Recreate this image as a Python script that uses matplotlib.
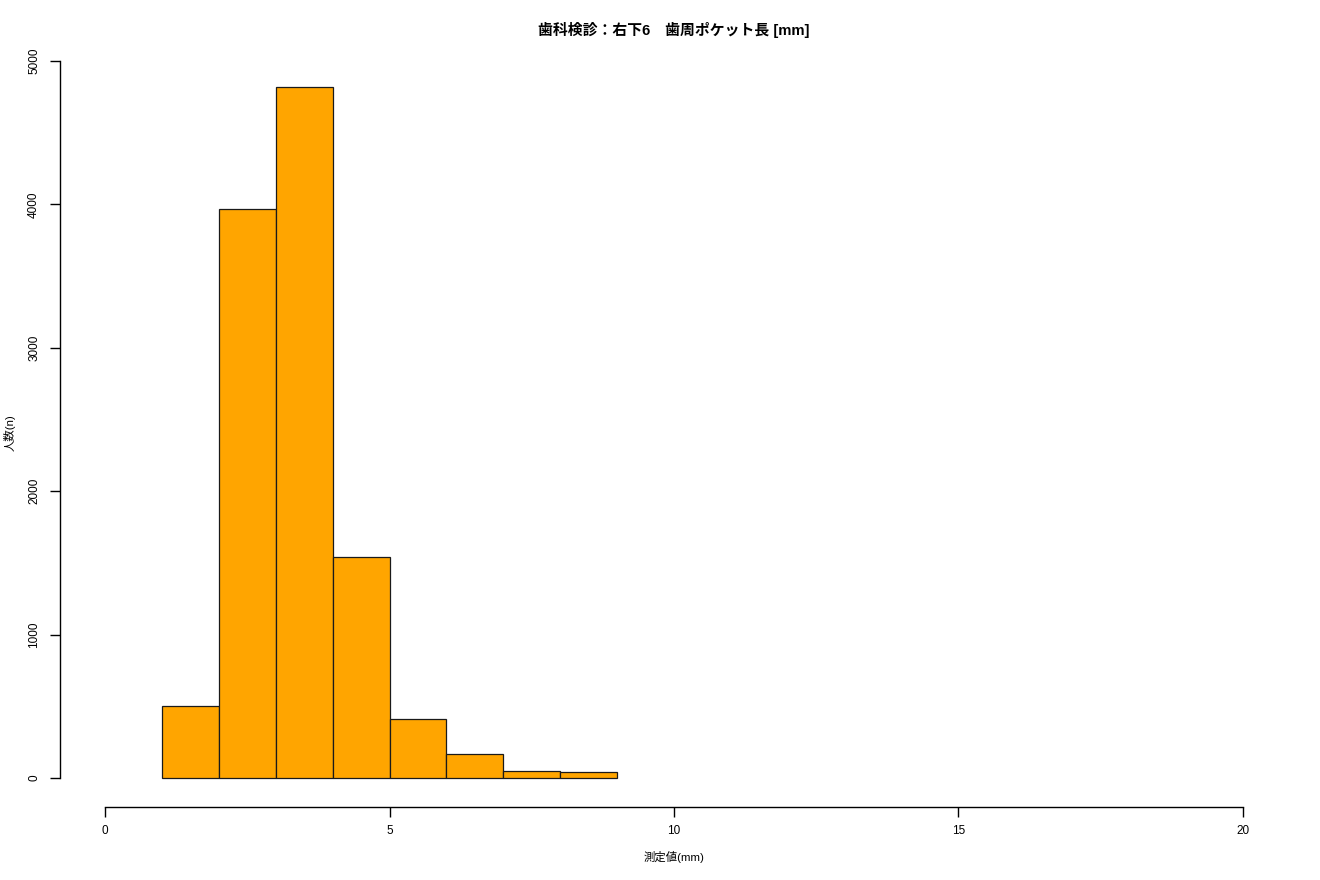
import matplotlib
matplotlib.use("Agg")
import matplotlib.pyplot as plt
import numpy as np

plt.rcParams['font.family'] = ['Liberation Sans', 'Noto Sans CJK JP', 'DejaVu Sans']

# Data: histogram bins (mm) and counts
bin_edges = [1, 2, 3, 4, 5, 6, 7, 8, 9]
counts = [500, 3968, 4819, 1542, 410, 166, 46, 40]
x_ticks = [0, 5, 10, 15, 20]
y_ticks = [0, 1000, 2000, 3000, 4000, 5000]
title = "歯科検診：右下6　歯周ポケット長 [mm]"
xlabel = "測定値(mm)"
ylabel = "人数(n)"

W, H = 1320, 880
fig = plt.figure(figsize=(W / 100, H / 100), dpi=100)
ax = fig.add_axes([0.0451, 0.0833, 0.9310, 0.8800])

lefts = np.array(bin_edges[:-1])
widths = np.diff(bin_edges)
ax.bar(lefts, counts, width=widths, align='edge', color='#FFA500',
       edgecolor='#1a1a1a', linewidth=0.9)

ax.set_xlim(-0.8, 20.8)
ax.set_ylim(-200, 5200)

for s in ['top', 'right']:
    ax.spines[s].set_visible(False)
ax.spines['left'].set_bounds(0, 5000)
ax.spines['bottom'].set_bounds(0, 20)
for s in ['left', 'bottom']:
    ax.spines[s].set_linewidth(1.0)
    ax.spines[s].set_color('black')

ax.set_xticks(x_ticks)
ax.set_xticklabels([str(v) for v in x_ticks])
ax.set_yticks(y_ticks)
ax.set_yticklabels([str(v) for v in y_ticks], rotation=90, va='center')
ax.tick_params(axis='x', direction='out', length=7, width=1.0,
               labelsize=8.5, pad=6.5)
ax.tick_params(axis='y', direction='out', length=7, width=1.0,
               labelsize=8.5, pad=7)

fig.text(674 / W, 1 - 30 / H, title, fontsize=10.7, fontweight='bold',
         ha='center', va='center')
fig.text(674 / W, 1 - 857 / H, xlabel, fontsize=8.2, ha='center', va='center')
fig.text(10 / W, 1 - 433 / H, ylabel, fontsize=8.2, ha='center', va='center',
         rotation=90)

fig.savefig("out.png", dpi=100)
